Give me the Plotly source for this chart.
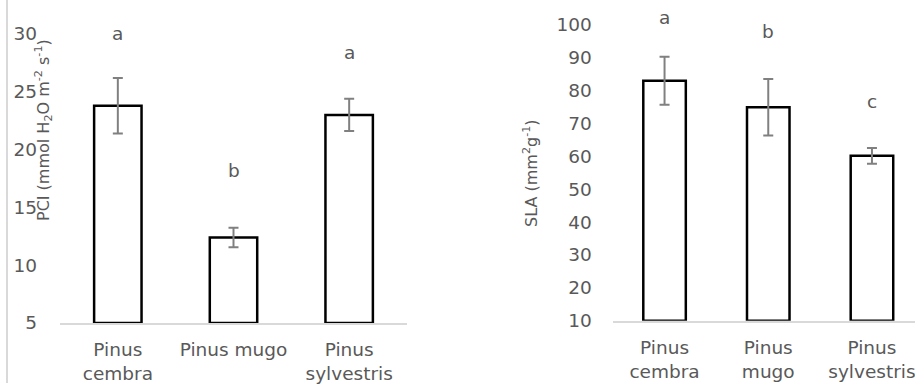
import plotly.graph_objects as go

# Species (x categories)
species_left = ["Pinus<br>cembra", "Pinus mugo", "Pinus<br>sylvestris"]
species_right = ["Pinus<br>cembra", "Pinus<br>mugo", "Pinus<br>sylvestris"]

# PCI (mmol H2O m-2 s-1): means and error
pci_mean = [23.8, 12.4, 23.0]
pci_err = [2.4, 0.85, 1.4]
pci_letters = ["a", "b", "a"]

# SLA (mm2 g-1): means and error
sla_mean = [83.0, 75.0, 60.2]
sla_err = [7.3, 8.6, 2.4]
sla_letters = ["a", "b", "c"]

# tick values
pci_ticks = [5, 10, 15, 20, 25, 30]
sla_ticks = [10, 20, 30, 40, 50, 60, 70, 80, 90, 100]

# heights where the significance letters sit
pci_letter_y = [30.0, 18.2, 28.4]
sla_letter_y = [102.4, 97.9, 76.6]

W, H = 915, 385
FONT = "DejaVu Sans"
GREY_TXT = "#595959"
TXT = 18.5

fig = go.Figure()

bar_style = dict(
    marker=dict(color="white", line=dict(color="black", width=2.5)),
    width=0.41,
    showlegend=False,
    hoverinfo="skip",
)

fig.add_trace(go.Bar(
    x=species_left, y=[m - 5 for m in pci_mean], base=5,
    error_y=dict(type="data", array=pci_err, color="#808080", thickness=2, width=5),
    xaxis="x", yaxis="y", **bar_style,
))
fig.add_trace(go.Bar(
    x=species_right, y=[m - 10 for m in sla_mean], base=10,
    error_y=dict(type="data", array=sla_err, color="#808080", thickness=2, width=5),
    xaxis="x2", yaxis="y2", **bar_style,
))

def px_x(p):
    return p / W

def px_y(p):
    return (H - p) / H

xcommon = dict(
    type="category", showgrid=False, showline=True, linecolor="#d9d9d9", linewidth=1.5,
    ticks="", tickfont=dict(family=FONT, size=TXT, color=GREY_TXT),
    ticklabelstandoff=9, zeroline=False, fixedrange=True, automargin=False,
)
ycommon = dict(
    showgrid=False, showline=False, zeroline=False, ticks="",
    tickfont=dict(family=FONT, size=TXT, color=GREY_TXT), fixedrange=True,
    automargin=False,
)

# left panel: 5 sits at y=323 px, 30 at y=34 px; range extends to 31.5 for the letters
pci_top = 31.5
pci_px_per_unit = (323 - 34) / 25
pci_top_px = 323 - (pci_top - 5) * pci_px_per_unit

# right panel: 10 sits at y=320.7 px, 100 at y=25 px; range extends to 104 for the letters
sla_top = 104
sla_px_per_unit = (320.7 - 25) / 90
sla_top_px = 320.7 - (sla_top - 10) * sla_px_per_unit

fig.update_layout(
    width=W, height=H,
    margin=dict(l=0, r=0, t=0, b=0, autoexpand=False),
    paper_bgcolor="white", plot_bgcolor="white",
    xaxis=dict(domain=[px_x(60), px_x(407)], range=[-0.5, 2.5], **xcommon),
    yaxis=dict(domain=[px_y(323), px_y(pci_top_px)], range=[5, pci_top], tickvals=pci_ticks,
               ticklabelstandoff=22, **ycommon),
    xaxis2=dict(domain=[px_x(612.7), 1.0], range=[-0.5, 2.415], anchor="y2", **xcommon),
    yaxis2=dict(domain=[px_y(320.7), px_y(sla_top_px)], range=[10, sla_top], tickvals=sla_ticks,
                anchor="x2", ticklabelstandoff=20, **ycommon),
)

annotations = []
for sp, ly, lt in zip(species_left, pci_letter_y, pci_letters):
    annotations.append(dict(x=sp, y=ly, xref="x", yref="y", text=lt, showarrow=False,
                            font=dict(family=FONT, size=TXT, color=GREY_TXT)))
for sp, ly, lt in zip(species_right, sla_letter_y, sla_letters):
    annotations.append(dict(x=sp, y=ly, xref="x2", yref="y2", text=lt, showarrow=False,
                            font=dict(family=FONT, size=TXT, color=GREY_TXT)))

# axis titles
annotations.append(dict(
    x=px_x(43), y=px_y(130), xref="paper", yref="paper",
    text="PCI (mmol H<sub>2</sub>O m<sup>-2</sup> s<sup>-1</sup>)",
    textangle=-90, showarrow=False, xanchor="center", yanchor="middle",
    font=dict(family=FONT, size=16, color=GREY_TXT),
))
annotations.append(dict(
    x=px_x(530), y=px_y(173), xref="paper", yref="paper",
    text="SLA (mm<sup>2</sup>g<sup>-1</sup>)",
    textangle=-90, showarrow=False, xanchor="center", yanchor="middle",
    font=dict(family=FONT, size=16, color=GREY_TXT),
))
fig.update_layout(annotations=annotations)

# thin frame line along the left edge
fig.add_shape(type="line", xref="paper", yref="paper",
              x0=px_x(7), x1=px_x(7), y0=px_y(0), y1=px_y(383),
              line=dict(color="#d9d9d9", width=2))

fig.write_html("out.html")
